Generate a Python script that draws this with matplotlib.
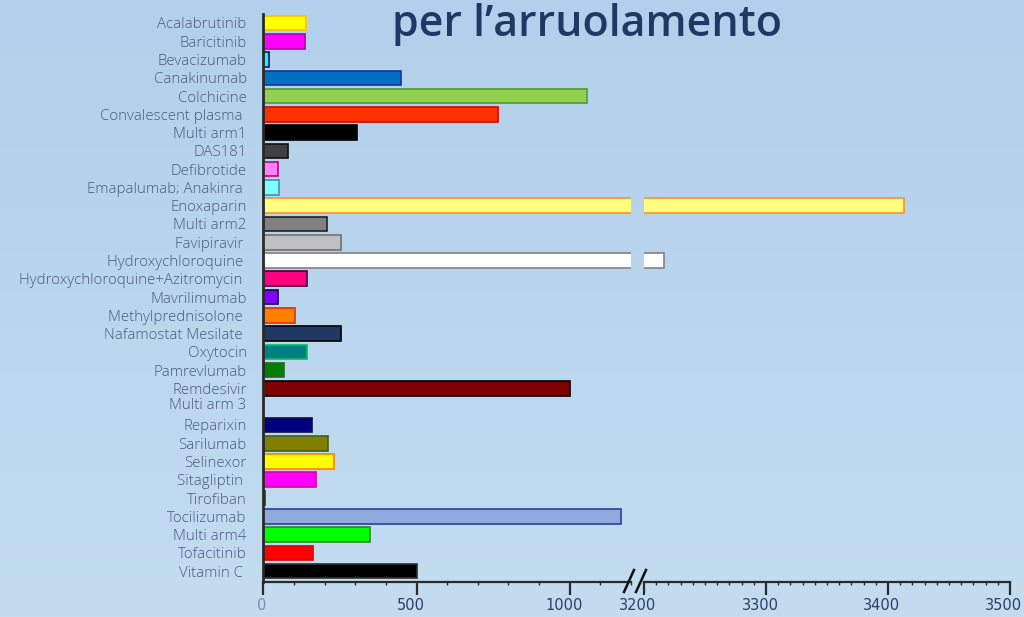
import numpy as np
import matplotlib
matplotlib.use("Agg")
import matplotlib.pyplot as plt
import matplotlib.transforms as mtransforms
from matplotlib.colors import LinearSegmentedColormap

categories = ["Acalabrutinib", "Baricitinib", "Bevacizumab", "Canakinumab", "Colchicine",
              "Convalescent plasma ", "Multi arm1", "DAS181", "Defibrotide", "Emapalumab; Anakinra ",
              "Enoxaparin", "Multi arm2", "Favipiravir ", "Hydroxychloroquine ",
              "Hydroxychloroquine+Azitromycin ", "Mavrilimumab", "Methylprednisolone ",
              "Nafamostat Mesilate ", "Oxytocin", "Pamrevlumab", "Remdesivir", "Multi arm 3",
              "Reparixin", "Sarilumab", "Selinexor", "Sitagliptin ", "Tirofiban", "Tocilizumab",
              "Multi arm4", "Tofacitinib", "Vitamin C "]
values = [138, 137, 19, 449, 1055, 767, 305, 82, 49, 52,
          3413, 209, 255, 3216, 144, 49, 102, 255, 144, 68,
          1002, 0, 159, 210, 230, 171, 6, 1166, 349, 163, 500]
fill_colors = ["#ffff00", "#ff00ff", "#00ffff", "#0070c0", "#92d050", "#ff3300", "#000000",
               "#404040", "#ff80ff", "#80ffff", "#ffff80", "#808080", "#c0c0c0", "#ffffff",
               "#ff0080", "#8000ff", "#ff8000", "#1f3864", "#008080", "#008000", "#800000",
               "#ffffff", "#000080", "#808000", "#ffff00", "#ff00ff", "#008080", "#8faadc",
               "#00ff00", "#ff0000", "#000000"]
edge_colors = ["#ffc000", "#b000b0", "#101060", "#1f2fa0", "#4e9a2a", "#e00000", "#000000",
               "#101010", "#c00080", "#4090c0", "#ff9030", "#202020", "#707070", "#808080",
               "#400040", "#200040", "#e03000", "#000000", "#00c060", "#306030", "#000000",
               "#ffffff", "#101040", "#406020", "#ff8000", "#e000a0", "#204040", "#2f3f9f",
               "#308030", "#e00000", "#303030"]
left_ticks = [0, 500, 1000]
right_ticks = [3200, 3300, 3400, 3500]
title_text = "per l\u2019arruolamento"

W, H = 1024, 617
fig = plt.figure(figsize=(W / 100, H / 100), dpi=100)

# gradient background
bg = fig.add_axes([0, 0, 1, 1], zorder=-10)
grad = np.linspace(0, 1, 256).reshape(-1, 1)
cmap = LinearSegmentedColormap.from_list("bg", ["#b2d0eb", "#c3dcf0"])
bg.imshow(grad, aspect="auto", cmap=cmap, extent=[0, 1, 0, 1], origin="upper")
bg.set_axis_off()

y_top_px, y_bot_px = 14, 581.7
y0_px, dy_px = 23, 18.27
ylim_top = (y_top_px - y0_px) / dy_px
ylim_bot = (y_bot_px - y0_px) / dy_px
bottom = (H - y_bot_px) / H
height = (y_bot_px - y_top_px) / H

x0_px, x1_px = 263.3, 631
x2_px, x3_px = 644, 1010
ax1 = fig.add_axes([x0_px / W, bottom, (x1_px - x0_px) / W, height])
ax2 = fig.add_axes([x2_px / W, bottom, (x3_px - x2_px) / W, height])

shift = mtransforms.ScaledTranslation(-6 / 100, 0, fig.dpi_scale_trans)

ypos = np.arange(len(categories))
for ax in (ax1, ax2):
    ax.barh(ypos, values, height=0.8, color=fill_colors, edgecolor=edge_colors, linewidth=1.2)
    ax.set_ylim(ylim_bot, ylim_top)
    ax.patch.set_alpha(0)
    ax.spines["top"].set_visible(False)
    ax.spines["right"].set_visible(False)
    ax.spines["bottom"].set_color("#2a2a2a")
    ax.spines["bottom"].set_linewidth(1.6)
    ax.tick_params(axis="x", which="major", length=9, width=1.6, color="#2a2a2a",
                   labelsize=10.5, labelcolor="#2c3e6a", pad=3)
    ax.tick_params(axis="x", which="minor", length=2, width=1, color="#2a2a2a")

ax1.set_xlim(0, 1200)
ax1.set_xticks(left_ticks)
ax1.set_xticks(np.arange(0, 1201, 100), minor=True)
ax1.spines["left"].set_color("#2a2a2a")
ax1.spines["left"].set_linewidth(2)
ax1.set_yticks(ypos)
ax1.set_yticklabels(categories, fontsize=10.8, color="#4a5a7e", family=["Open Sans", "DejaVu Sans"],
                    fontweight="light")
ax1.tick_params(axis="y", length=0, pad=12)
for lbl in ax1.get_yticklabels():
    if lbl.get_text() == "Multi arm 3":
        lbl.set_transform(lbl.get_transform() +
                          mtransforms.ScaledTranslation(0, 3 / 100, fig.dpi_scale_trans))

ax2.set_xlim(3200, 3500)
ax2.set_xticks(right_ticks)
ax2.set_xticks(np.arange(3200, 3501, 10), minor=True)
ax2.spines["left"].set_visible(False)
ax2.set_yticks([])

for ax in (ax1, ax2):
    for lbl in ax.get_xticklabels():
        lbl.set_transform(lbl.get_transform() + shift)
for lbl in ax1.get_xticklabels():
    if lbl.get_text() == "0":
        lbl.set_color("#7d8cab")
        lbl.set_transform(lbl.get_transform() +
                          mtransforms.ScaledTranslation(4 / 100, 0, fig.dpi_scale_trans))

# break marks
for xc in (629, 641):
    fig.add_artist(plt.Line2D([(xc - 5) / W, (xc + 5) / W],
                              [(H - 592) / H, (H - 570) / H], color="#111111", lw=1.8))

fig.text(587 / W, (H - 24) / H, title_text, ha="center", va="center", fontsize=31,
         color="#1f3864", family=["Open Sans", "DejaVu Sans"], fontweight="semibold")

fig.savefig("out.png", dpi=100)
